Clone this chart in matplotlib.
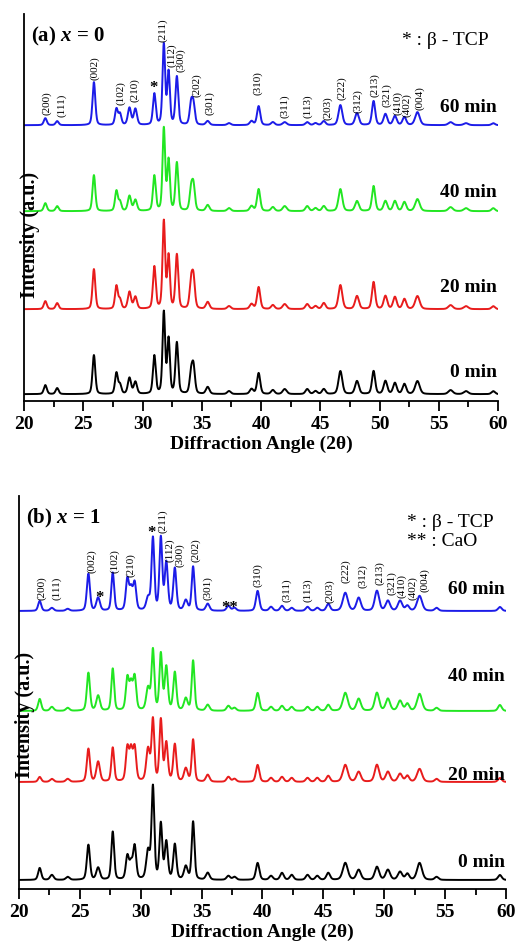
import numpy as np
import matplotlib.pyplot as plt
from matplotlib.ticker import MultipleLocator

plt.rcParams['font.family'] = 'Liberation Serif'
plt.rcParams['mathtext.fontset'] = 'custom'
plt.rcParams['mathtext.it'] = 'Liberation Serif:italic:bold'
plt.rcParams['mathtext.rm'] = 'Liberation Serif:bold'

times = ['0 min', '20 min', '40 min', '60 min']
colors = ['black', '#e81c1c', '#22e622', '#1c1ce8']

# ---- panel (a), x = 0 : peak positions (2theta), widths and heights per trace
a_pos = [21.8, 22.8, 25.9, 27.8, 28.1, 28.9, 29.4, 31.0, 31.8, 32.2, 32.9, 34.1, 34.3,
         35.5, 37.3, 39.2, 39.8, 41.0, 42.0, 43.9, 44.6, 45.3, 46.7, 48.1, 49.5, 50.5,
         51.3, 52.1, 53.2, 56.0, 57.3, 59.6]
a_fwhm = [0.3, 0.3, 0.28, 0.28, 0.28, 0.32, 0.32, 0.28, 0.26, 0.26, 0.28, 0.3, 0.3,
          0.35, 0.35, 0.35, 0.32, 0.35, 0.4, 0.35, 0.35, 0.35, 0.38, 0.38, 0.32, 0.36,
          0.36, 0.36, 0.45, 0.45, 0.45, 0.35]
a_h0 = [9, 6, 39, 21, 9, 16, 12, 38, 81, 54, 51, 19, 26, 7, 3, 5, 21, 4, 5, 5, 3, 5,
        23, 13, 23, 13, 11, 10, 13, 4, 3, 3]
a_h20 = [8, 6, 40, 23, 9, 17, 12, 42, 87, 52, 54, 25, 29, 7, 3, 5, 22, 4, 5, 5, 3, 6,
         24, 13, 27, 13, 12, 10, 13, 4, 3, 3]
a_h40 = [8, 5, 36, 20, 9, 15, 11, 35, 82, 50, 48, 20, 24, 6, 3, 5, 22, 4, 5, 5, 3, 5,
         22, 10, 25, 10, 10, 9, 12, 4, 3, 3]
a_h60 = [7, 4, 43, 16, 11, 17, 16, 31, 80, 52, 48, 20, 19, 4, 2, 4, 19, 3, 3, 3, 2, 4,
         20, 12, 24, 11, 9, 8, 13, 3, 2, 2]
a_base = [7, 92, 190, 276]

a_hkl = ['(200)', '(111)', '(002)', '(102)', '(210)', '(211)', '(112)', '(300)', '(202)',
         '(301)', '(310)', '(311)', '(113)', '(203)', '(222)', '(312)', '(213)', '(321)',
         '(410)', '(402)', '(004)']
a_hkl_x = [21.9, 23.2, 26.0, 28.2, 29.3, 31.7, 32.5, 33.2, 34.6, 35.7, 39.7, 42.0, 43.9,
           45.6, 46.8, 48.2, 49.6, 50.6, 51.5, 52.3, 53.4]
a_hkl_y = [287, 285, 322, 297, 300, 360, 335, 330, 305, 287, 307, 284, 284, 282, 302,
           289, 305, 295, 287, 285, 292]
a_marks = [('*', 30.9, 314)]
a_legend = ['* : \u03b2 - TCP']

# ---- panel (b), x = 1
b_pos = [21.7, 22.7, 24.0, 25.7, 26.5, 27.7, 28.9, 29.2, 29.5, 30.6, 31.0, 31.65, 32.1,
         32.8, 33.7, 34.3, 35.5, 37.2, 37.7, 39.6, 40.7, 41.6, 42.4, 43.7, 44.5, 45.4,
         46.8, 47.9, 49.4, 50.3, 51.3, 51.9, 52.9, 54.3, 59.5]
b_fwhm = [0.3, 0.35, 0.35, 0.3, 0.35, 0.27, 0.3, 0.3, 0.3, 0.35, 0.27, 0.27, 0.3,
          0.3, 0.35, 0.27, 0.35, 0.35, 0.35, 0.33, 0.35, 0.35, 0.35, 0.35, 0.35, 0.35,
          0.48, 0.42, 0.42, 0.42, 0.42, 0.36, 0.48, 0.36, 0.36]
b_h0 = [12, 5, 3, 35, 12, 48, 23, 15, 33, 28, 92, 55, 37, 35, 13, 58, 7, 4, 3, 17, 4, 7,
        5, 5, 4, 7, 17, 10, 13, 10, 8, 6, 17, 3, 5]
b_h20 = [5, 3, 3, 33, 20, 34, 33, 30, 33, 32, 61, 61, 38, 37, 13, 42, 7, 5, 3, 17, 4, 5,
         4, 4, 4, 6, 17, 10, 17, 10, 8, 6, 13, 3, 4]
b_h40 = [12, 4, 3, 38, 15, 42, 32, 25, 33, 22, 60, 56, 43, 38, 12, 50, 6, 5, 3, 18, 4, 5,
         4, 4, 4, 6, 18, 12, 18, 12, 10, 7, 17, 3, 6]
b_h60 = [10, 3, 2, 37, 13, 38, 31, 20, 27, 12, 72, 72, 47, 42, 10, 44, 7, 5, 3, 20, 4, 5,
         3, 4, 3, 7, 18, 13, 20, 10, 10, 5, 15, 3, 4]
b_base = [9, 107, 178, 278]

b_hkl = a_hkl
b_hkl_x = [21.9, 23.1, 26.0, 27.9, 29.2, 31.8, 32.4, 33.2, 34.5, 35.5, 39.6, 42.0, 43.7,
           45.5, 46.8, 48.2, 49.6, 50.6, 51.4, 52.3, 53.3]
b_hkl_y = [290, 290, 317, 317, 313, 357, 328, 323, 328, 290, 303, 288, 288, 287, 307,
           302, 305, 295, 292, 290, 298]
b_marks = [('*', 26.6, 292), ('*', 30.9, 357), ('**', 37.3, 282)]
b_legend = ['* : \u03b2 - TCP', '** : CaO']


def pattern(x, pos, fwhm, heights, base):
    y = np.full_like(x, float(base))
    for p, w, h in zip(pos, fwhm, heights):
        d = (x - p) / w
        y += h * (0.65 * np.exp(-4 * np.log(2) * d ** 2) + 0.35 / (1 + 4 * d ** 2))
    return y


def draw_panel(ax, pos, fwhm, heights, bases, hkl, hkl_x, hkl_y, marks, legend,
               panel_label, ylim, time_y, legend_y, ylab_y):
    x = np.linspace(20, 60, 4001)
    for h, b, c in zip(heights, bases, colors):
        ax.plot(x, pattern(x, pos, fwhm, h, b), color=c, lw=1.4)

    for lab, lx, ly in zip(hkl, hkl_x, hkl_y):
        ax.text(lx, ly, lab, rotation=90, ha='center', va='bottom', fontsize=8)
    for m in marks:
        ax.text(m[1], m[2], m[0], ha='center', va='center', fontsize=12,
                fontweight='bold')

    for t, ty in zip(times, time_y):
        ax.text(59.9, ty, t, ha='right', va='center', fontsize=14, fontweight='bold')
    for t, ly in zip(legend, legend_y):
        ax.text(51.9, ly, t, ha='left', va='center', fontsize=14)

    ax.text(20.6, ylim - 21, panel_label, ha='left', va='center', fontsize=15,
            fontweight='bold')
    ax.text(20.5, ylab_y, 'Intensity (a.u.)', rotation=90, ha='center', va='center',
            fontsize=14.5, fontweight='bold')

    ax.set_xlim(20, 60)
    ax.set_ylim(0, ylim)
    ax.spines['top'].set_visible(False)
    ax.spines['right'].set_visible(False)
    ax.spines['left'].set_linewidth(1.3)
    ax.spines['bottom'].set_linewidth(1.3)
    ax.set_yticks([])
    ax.xaxis.set_major_locator(MultipleLocator(5))
    ax.xaxis.set_minor_locator(MultipleLocator(2.5))
    ax.tick_params(axis='x', which='major', direction='out', length=7, width=1.3,
                   labelsize=14, pad=3)
    ax.tick_params(axis='x', which='minor', direction='out', length=4, width=1.3)
    for lab in ax.get_xticklabels():
        lab.set_fontweight('bold')
    ax.set_xlabel('Diffraction Angle (2\u03b8)', fontsize=14, fontweight='bold',
                  labelpad=2)


fig = plt.figure(figsize=(5.15, 9.53), dpi=100)
ax_a = fig.add_axes([0.0466, 0.578, 0.9204, 0.406])
ax_b = fig.add_axes([0.0369, 0.0661, 0.9456, 0.4124])

draw_panel(ax_a, a_pos, a_fwhm, [a_h0, a_h20, a_h40, a_h60], a_base, a_hkl, a_hkl_x,
           a_hkl_y, a_marks, a_legend, r'(a) $x$ = 0', 387, [30, 115, 210, 295],
           [362], 167)
draw_panel(ax_b, b_pos, b_fwhm, [b_h0, b_h20, b_h40, b_h60], b_base, b_hkl, b_hkl_x,
           b_hkl_y, b_marks, b_legend, r'(b) $x$ = 1', 393, [28, 115, 213, 300],
           [367, 348], 175)

fig.savefig('out.png', dpi=100)
